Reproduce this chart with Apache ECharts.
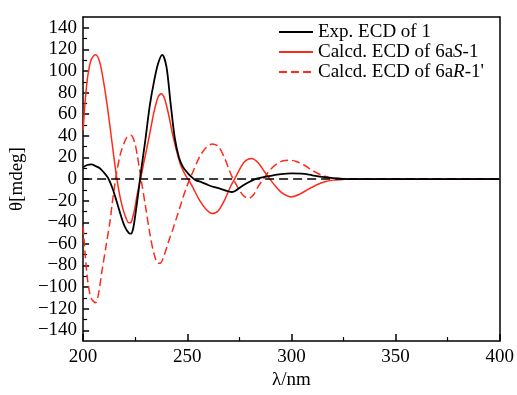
<!DOCTYPE html>
<html>
<head>
<meta charset="utf-8">
<script src="https://cdn.jsdelivr.net/npm/echarts@6/dist/echarts.min.js"></script>
<style>
  html, body { margin: 0; padding: 0; background: #fff; }
  #chart { width: 517px; height: 395px; }
</style>
</head>
<body>
<div id="chart"></div>
<script>
// Experimental ECD of 1
const expWavelength = [200, 202, 204, 206, 208, 210, 212, 214, 216, 218, 220, 222, 223, 224, 225, 226, 227, 228, 229, 230, 232, 234, 236, 238, 240, 242, 244, 246, 248, 250, 252, 254, 257, 260, 263, 266, 269, 271, 273, 276, 279, 282, 286, 290, 295, 300, 305, 310, 315, 320, 325, 330, 350, 400];
const expTheta = [11, 13, 13.5, 12, 10, 6, 1, -8, -20, -33, -44, -50, -50.5, -46, -34, -20, -5, 10, 24, 38, 68, 90, 107, 115, 104, 70, 38, 20, 11, 6, 2, -1, -3, -5.5, -7.5, -9, -11, -12, -11, -7, -3.5, -0.5, 1.5, 3, 4.5, 5.2, 5, 3.5, 2, 0.8, 0.2, 0, 0, 0];

// Calcd. ECD of 6aS-1
const calcSWavelength = [200, 201, 202, 203, 204, 206, 208, 210, 212, 214, 216, 218, 220, 222, 223, 224, 225, 226, 227, 228, 229, 230, 232, 234, 236, 237.5, 239, 241, 243, 245, 247, 249, 251, 253, 256, 259, 262, 265, 268, 271, 273, 276, 278, 281, 284, 287, 290, 293, 296, 300, 304, 308, 312, 316, 320, 325, 330, 350, 400];
const calcSTheta = [45, 72, 92, 104, 111, 115, 108, 88, 62, 32, 3, -19, -33, -40.5, -40, -34, -25, -14, -5, 4, 14, 23, 42, 62, 76, 79, 75, 60, 41, 25, 12, 4, -2, -9, -20, -28, -32, -29, -19, -6, 1, 12, 17, 19, 15, 7, -1, -8, -13.5, -16.5, -14, -9.5, -5.5, -2.5, -1, -0.3, 0, 0, 0];

// Calcd. ECD of 6aR-1'
const calcRWavelength = [200, 201, 202, 203, 204, 206, 207, 208, 209, 211, 213, 214, 215, 216, 218, 220, 221, 223, 224, 225, 226, 227, 228, 230, 232, 234, 236, 237, 239, 241, 243, 245, 247, 249, 251, 253, 256, 259, 262, 265, 268, 270, 272, 275, 277, 279.5, 282, 284, 286, 288, 290, 293, 296, 299, 302, 306, 310, 314, 318, 322, 326, 350, 400];
const calcRTheta = [-44, -70, -91, -104, -111, -114.5, -110, -99, -86, -62, -38, -22, -8, 5, 24, 35, 38.5, 40.5, 38, 32, 22, 10, -2, -26, -50, -69, -78, -78, -70, -58, -47, -35, -23, -11, -1, 8, 21, 29, 32.5, 30, 19, 9, 0, -10, -15.5, -18, -14, -7, -1.5, 4, 9, 14, 17, 17.5, 16.5, 13, 8, 4, 1.5, 0.5, 0, 0, 0];

const xTicks = [200, 250, 300, 350, 400];
const yMajorTicks = [-140, -120, -100, -80, -60, -40, -20, 0, 20, 40, 60, 80, 100, 120, 140];
const yMinorTicks = [-130, -110, -90, -70, -50, -30, -10, 10, 30, 50, 70, 90, 110, 130];

const legendLabels = {
  exp: '{n|Exp. ECD of 1}',
  calcS: '{n|Calcd. ECD of 6a}{i|S}{n|-1}',
  calcR: "{n|Calcd. ECD of 6a}{i|R}{n|-1'}"
};

const FONT = "'Liberation Serif', 'Times New Roman', serif";

function pairs(xs, ys) {
  return xs.map((x, i) => [x, ys[i]]);
}

const chart = echarts.init(document.getElementById('chart'), null, { renderer: 'canvas' });

const frameLine = { show: true, onZero: false, lineStyle: { color: '#000', width: 1.5 } };

chart.setOption({
  animation: false,
  backgroundColor: '#fff',
  grid: { left: 83, right: 17, top: 17, bottom: 43 },
  legend: {
    orient: 'vertical',
    left: 278,
    top: 22,
    padding: 0,
    itemWidth: 34,
    itemHeight: 12,
    itemGap: 0,
    itemStyle: { opacity: 0 },
    data: ['exp', 'calcS', 'calcR'],
    formatter: (name) => legendLabels[name],
    textStyle: {
      color: '#000',
      fontFamily: FONT,
      fontSize: 19,
      lineHeight: 20,
      rich: {
        n: { fontFamily: FONT, fontSize: 19, lineHeight: 20, color: '#000' },
        i: { fontFamily: FONT, fontSize: 19, lineHeight: 20, color: '#000', fontStyle: 'italic' }
      }
    }
  },
  xAxis: [
    {
      type: 'value',
      min: 200,
      max: 400,
      interval: 50,
      position: 'bottom',
      name: 'λ/nm',
      nameLocation: 'middle',
      nameGap: 21,
      nameTextStyle: { color: '#000', fontFamily: FONT, fontSize: 19 },
      axisLine: frameLine,
      axisTick: { show: true, inside: true, length: 7, lineStyle: { color: '#000', width: 1.5 } },
      minorTick: { show: true, splitNumber: 2, length: 4, lineStyle: { color: '#000', width: 1.2 } },
      axisLabel: { color: '#000', fontFamily: FONT, fontSize: 19, margin: 6, customValues: xTicks },
      splitLine: { show: false }
    },
    {
      type: 'value',
      min: 200,
      max: 400,
      position: 'top',
      axisLine: frameLine,
      axisTick: { show: false },
      axisLabel: { show: false },
      splitLine: { show: false }
    }
  ],
  yAxis: [
    {
      type: 'value',
      min: -150,
      max: 150,
      position: 'left',
      name: 'θ[mdeg]',
      nameLocation: 'middle',
      nameGap: 52,
      nameTextStyle: { color: '#000', fontFamily: FONT, fontSize: 19 },
      axisLine: frameLine,
      axisTick: { show: true, inside: true, length: 6, customValues: yMajorTicks, lineStyle: { color: '#000', width: 1.5 } },
      axisLabel: {
        color: '#000', fontFamily: FONT, fontSize: 19, margin: 6, customValues: yMajorTicks,
        formatter: (v) => String(v).replace('-', '\u2212')
      },
      splitLine: { show: false }
    },
    {
      type: 'value',
      min: -150,
      max: 150,
      position: 'left',
      axisLine: { show: false, onZero: false },
      axisTick: { show: true, inside: true, length: 4, customValues: yMinorTicks, lineStyle: { color: '#000', width: 1.2 } },
      axisLabel: { show: false },
      splitLine: { show: false }
    },
    {
      type: 'value',
      min: -150,
      max: 150,
      position: 'right',
      axisLine: frameLine,
      axisTick: { show: false },
      axisLabel: { show: false },
      splitLine: { show: false }
    }
  ],
  series: [
    {
      name: 'exp',
      type: 'line',
      data: pairs(expWavelength, expTheta),
      smooth: 0.3,
      symbol: 'none',
      lineStyle: { color: '#000', width: 1.8 },
      itemStyle: { color: '#000' },
      z: 3,
      markLine: {
        silent: true,
        symbol: 'none',
        label: { show: false },
        lineStyle: { color: '#000', width: 1.5, type: [9, 5] },
        data: [{ yAxis: 0 }]
      }
    },
    {
      name: 'calcS',
      type: 'line',
      data: pairs(calcSWavelength, calcSTheta),
      smooth: 0.3,
      symbol: 'none',
      lineStyle: { color: '#ff2a1a', width: 1.5 },
      itemStyle: { color: '#ff2a1a' },
      z: 2
    },
    {
      name: 'calcR',
      type: 'line',
      data: pairs(calcRWavelength, calcRTheta),
      smooth: 0.3,
      symbol: 'none',
      lineStyle: { color: '#ff2a1a', width: 1.5, type: [8, 4] },
      itemStyle: { color: '#ff2a1a' },
      z: 2
    }
  ]
});
</script>
</body>
</html>
